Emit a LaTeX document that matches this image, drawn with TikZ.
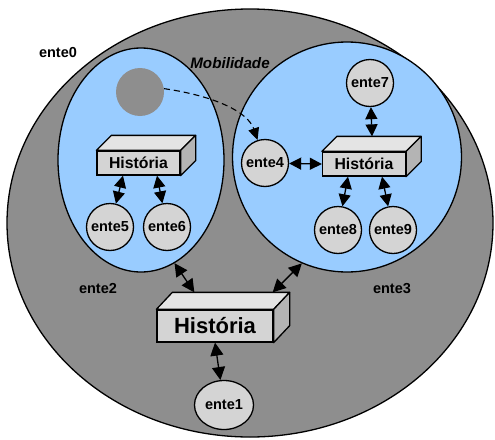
\documentclass[tikz,border=0pt]{standalone}
\usepackage{fontspec}
\setmainfont{Liberation Sans}
\usetikzlibrary{arrows.meta,shapes.geometric}
\definecolor{biggray}{HTML}{8E8E8E}
\definecolor{lblue}{HTML}{99CCFF}
\definecolor{ngray}{HTML}{D4D4D4}
\definecolor{topgray}{HTML}{E4E4E4}
\definecolor{sidegray}{HTML}{B4B4B4}
\tikzset{
  ente/.style={circle,draw,line width=1.3pt,fill=ngray,minimum size=47pt,inner sep=0pt,font=\fontsize{14.5}{16}\selectfont\bfseries},
  hbox/.style={rectangle,draw,line width=1.3pt,fill=ngray,minimum width=83pt,minimum height=24pt,inner sep=0pt,font=\fontsize{15.8}{17}\selectfont\bfseries},
  bighbox/.style={hbox,minimum width=116pt,minimum height=32pt,font=\fontsize{22}{24}\selectfont\bfseries},
  region/.style={ellipse,draw,line width=1.3pt,inner sep=0pt},
  lbl/.style={font=\fontsize{14.5}{16}\selectfont\bfseries},
  dbl/.style={line width=1.3pt,{Triangle[length=12pt,width=12pt]}-{Triangle[length=12pt,width=12pt]}},
  dblbig/.style={line width=1.3pt,{Triangle[length=13pt,width=13pt]}-{Triangle[length=13pt,width=13pt]}},
  face/.style={draw,line width=1.3pt,line join=round}
}
\begin{document}
\begin{tikzpicture}[x=1pt,y=-1pt]
\useasboundingbox (0,0) rectangle (495,439);
% regions
\node[region,fill=biggray,minimum width=486pt,minimum height=428pt] (e0) at (250,223) {};
\node[region,fill=lblue,minimum width=166pt,minimum height=224pt] (e2) at (141,160) {};
\node[region,fill=lblue,minimum width=229pt,minimum height=230pt] (e3) at (347,157) {};
\node[circle,fill=biggray,minimum size=48pt,inner sep=0pt] (g) at (140,92) {};
% labels
\node[lbl] (l0) at (58,53) {ente0};
\node[lbl] (l2) at (98,289) {ente2};
\node[lbl] (l3) at (392,289) {ente3};
\node[font=\fontsize{15.2}{17}\selectfont\bfseries\itshape] (mob) at (230,63) {Mobilidade};
% boxes
\node[hbox] (h1) at (138.5,163) {História};
\draw[face,fill=topgray] (h1.north west) -- ++(15,-15) -- ([shift={(15,-15)}]h1.north east) -- (h1.north east) -- cycle;
\draw[face,fill=sidegray] (h1.north east) -- ++(15,-15) -- ([shift={(15,-15)}]h1.south east) -- (h1.south east) -- cycle;
\node[hbox] (h3) at (364,164) {História};
\draw[face,fill=topgray] (h3.north west) -- ++(15,-15) -- ([shift={(15,-15)}]h3.north east) -- (h3.north east) -- cycle;
\draw[face,fill=sidegray] (h3.north east) -- ++(15,-15) -- ([shift={(15,-15)}]h3.south east) -- (h3.south east) -- cycle;
\node[bighbox] (h0) at (215,326) {História};
\draw[face,fill=topgray] (h0.north west) -- ++(16,-17) -- ([shift={(16,-17)}]h0.north east) -- (h0.north east) -- cycle;
\draw[face,fill=sidegray] (h0.north east) -- ++(16,-17) -- ([shift={(16,-17)}]h0.south east) -- (h0.south east) -- cycle;
% entes
\node[ente] (e5) at (110,227) {ente5};
\node[ente] (e6) at (167,227) {ente6};
\node[ente] (e4) at (265,163) {ente4};
\node[ente] (e7) at (370,83) {ente7};
\node[ente] (e8) at (338,230) {ente8};
\node[ente] (e9) at (393,230) {ente9};
\node[ente,ellipse,minimum width=59pt,minimum height=49pt] (e1) at (224,405) {ente1};
% coordinates
\coordinate (h1a) at ([xshift=-15.5pt]h1.south);
\coordinate (h1b) at ([xshift=18.5pt]h1.south);
\coordinate (h3a) at ([xshift=-16pt]h3.south);
\coordinate (h3b) at ([xshift=18pt]h3.south);
\coordinate (h3t) at ([shift={(8,-15)}]h3.north);
\coordinate (h0l) at ([shift={(38,-17)}]h0.north west);
\coordinate (h0r) at ([shift={(-1,-17)}]h0.north east);
% connectors
\draw[dbl] (h1a) -- (e5);
\draw[dbl] (h1b) -- (e6);
\draw[dbl] (h3a) -- (e8);
\draw[dbl] (h3b) -- (e9);
\draw[dbl] (h3t) -- (e7);
\draw[dbl] (e4) -- (h3.west);
\draw[dblbig] (e2.-72) -- (h0l);
\draw[dblbig] (e3.-113) -- (h0r);
\draw[dblbig] (h0.south) -- (e1);
\draw[line width=1.1pt,dash pattern=on 6pt off 4pt,-{Triangle[length=12pt,width=11pt]}] (g.8) .. controls (215,96) and (248,112) .. (e4.108);
\end{tikzpicture}
\end{document}
